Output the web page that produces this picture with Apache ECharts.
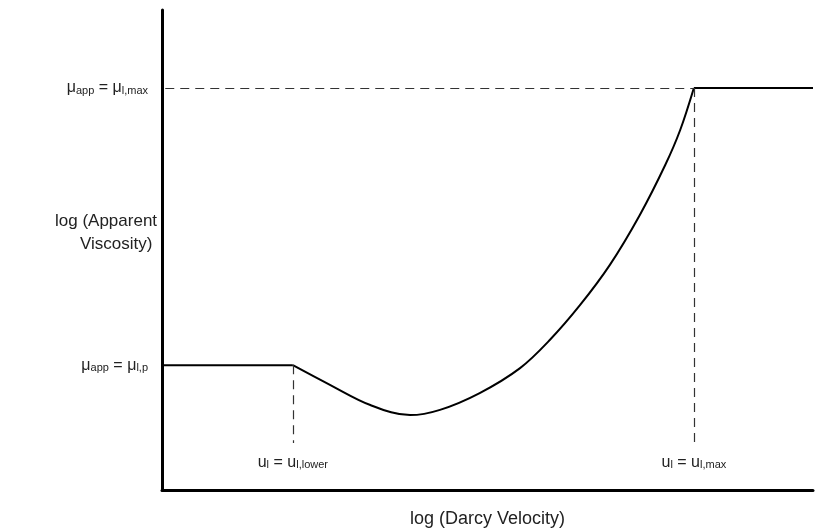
<!DOCTYPE html>
<html>
<head>
<meta charset="utf-8">
<script src="https://cdn.jsdelivr.net/npm/echarts@6/dist/echarts.min.js"></script>
<style>
  html, body { margin: 0; padding: 0; background: #fff; }
  #chart { width: 817px; height: 530px; }
</style>
</head>
<body>
<div id="chart"></div>
<script>
// Schematic: apparent viscosity vs Darcy velocity (both on log scale, arbitrary units 0-100)
const lowPlateau = 26.0;      // mu_app = mu_l,p
const highPlateau = 83.75;    // mu_app = mu_l,max
const uLower = 20.1;          // u_l = u_l,lower
const uMax = 81.7;            // u_l = u_l,max
const lowPlateauX = [0, uLower];
const highPlateauX = [uMax, 100];
// shear-thinning dip and shear-thickening rise between the two plateaus
const curveX = [20.1, 25.8, 32.0, 38.1, 42.7, 48.8, 55.0, 59.6, 64.2, 68.8, 73.4, 77.3, 79.6, 81.7];
const curveY = [26.0, 21.9, 17.7, 15.6, 16.7, 20.2, 25.4, 31.3, 38.5, 46.9, 57.3, 67.7, 75.0, 83.75];
const dropEnd = 9.8;          // lower end of the dashed velocity markers
const yTickValues = [lowPlateau, highPlateau];

const FONT = '"Liberation Sans", Arial, sans-serif';
const sub = { fontFamily: FONT, fontSize: 11, color: '#222', padding: [6, 0, 0, 0] };
const main = { fontFamily: FONT, fontSize: 16, color: '#222' };

const chart = echarts.init(document.getElementById('chart'));
chart.setOption({
  animation: false,
  grid: { left: 162, top: 10, right: 4, bottom: 40, outerBoundsMode: 'none', containLabel: false },
  xAxis: {
    type: 'value', min: 0, max: 100,
    axisLine: { show: true, lineStyle: { color: '#000', width: 3 } },
    axisTick: { show: false }, axisLabel: { show: false }, splitLine: { show: false },
    name: 'log (Darcy Velocity)', nameLocation: 'middle', nameGap: 20,
    nameTextStyle: { fontFamily: FONT, fontSize: 18, color: '#222' }
  },
  yAxis: {
    type: 'value', min: 0, max: 100,
    axisLine: { show: true, lineStyle: { color: '#000', width: 3 } },
    axisTick: { show: false }, splitLine: { show: false },
    axisLabel: {
      show: true, customValues: yTickValues, margin: 14,
      formatter: v => v === highPlateau
        ? '{m|μ}{s|app}{m| = μ}{s|l,max}'
        : '{m|μ}{s|app}{m| = μ}{s|l,p}',
      rich: { m: main, s: sub }
    }
  },
  graphic: [
    { type: 'text', left: 55, top: 213, style: { text: 'log (Apparent', fontFamily: FONT, fontSize: 17, fill: '#222' } },
    { type: 'text', left: 80, top: 236, style: { text: 'Viscosity)', fontFamily: FONT, fontSize: 17, fill: '#222' } }
  ],
  series: [
    {
      type: 'line', symbol: 'none', silent: true,
      lineStyle: { color: '#000', width: 2 },
      data: lowPlateauX.map(x => [x, lowPlateau]),
      markLine: {
        silent: true, symbol: 'none',
        lineStyle: { color: '#333', width: 1.2, type: [9, 6] },
        label: {
          show: true, position: 'end', distance: 11,
          formatter: '{m|u}{s|l}{m| = u}{s|l,lower}', rich: { m: main, s: sub }
        },
        data: [[{ coord: [uLower, lowPlateau] }, { coord: [uLower, dropEnd] }]]
      }
    },
    {
      type: 'line', symbol: 'none', silent: true, smooth: 0.35,
      lineStyle: { color: '#000', width: 2 },
      data: curveX.map((x, i) => [x, curveY[i]])
    },
    {
      type: 'line', symbol: 'none', silent: true,
      lineStyle: { color: '#000', width: 2 },
      data: highPlateauX.map(x => [x, highPlateau]),
      markLine: {
        silent: true, symbol: 'none',
        lineStyle: { color: '#333', width: 1.2, type: [9, 6] },
        data: [
          [{ coord: [0.5, highPlateau], label: { show: false } }, { coord: [uMax, highPlateau] }],
          [{ coord: [uMax, highPlateau], label: {
              show: true, position: 'end', distance: 11,
              formatter: '{m|u}{s|l}{m| = u}{s|l,max}', rich: { m: main, s: sub } } },
           { coord: [uMax, dropEnd] }]
        ]
      }
    }
  ]
});
</script>
</body>
</html>
